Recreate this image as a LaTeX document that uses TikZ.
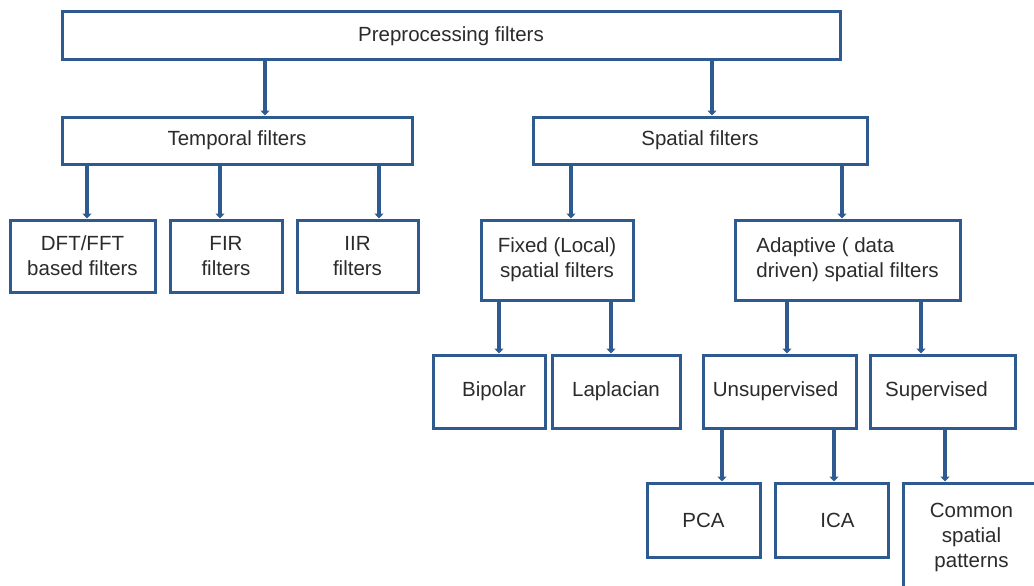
\documentclass[tikz,border=0pt]{standalone}
\usepackage{fontspec}
\setmainfont{Liberation Sans}
\usetikzlibrary{arrows.meta}
\definecolor{bl}{HTML}{2F5A90}
\definecolor{tx}{HTML}{2B2B2B}
\begin{document}
\begin{tikzpicture}[x=1pt,y=-1pt,
 box/.style={draw=bl, line width=3pt, fill=white, text=tx, align=center, inner sep=0pt,
   font=\fontsize{20.5}{25}\selectfont},
 arr/.style={draw=bl, line width=4pt, -{Triangle[length=5pt,width=9pt]}}]
\useasboundingbox (0,0) rectangle (1034,586);
\begin{scope}
\clip (0,0) rectangle (1034,586);
% level 0
\node[box, minimum width=778pt, minimum height=48pt] (pre) at (451,36) {Preprocessing filters};
% level 1
\node[box, minimum width=350pt, minimum height=47pt] (tem) at (237,140.5) {Temporal filters};
\node[box, minimum width=334pt, minimum height=47pt] (spa) at (700,140.5) {Spatial filters};
% level 2
\node[box, minimum width=145pt, minimum height=72pt] (dft) at (82.5,256) {DFT/FFT\\based filters};
\node[box, minimum width=112pt, minimum height=72pt] (fir) at (226,256) {FIR\\filters};
\node[box, minimum width=121pt, minimum height=72pt] (iir) at (357.5,256) {IIR\\filters};
\node[box, minimum width=152pt, minimum height=80pt] (fix) at (557,260) {Fixed (Local)\\spatial filters};
\node[box, minimum width=225pt, minimum height=80pt, align=left] (ada) at (847.5,260) {Adaptive ( data\\driven) spatial filters};
% level 3
\node[box, minimum width=112pt, minimum height=73pt] (bip) at (489,391.5) {\hspace*{10pt}Bipolar};
\node[box, minimum width=128pt, minimum height=73pt] (lap) at (616,391.5) {Laplacian};
\node[box, minimum width=153pt, minimum height=73pt] (uns) at (779.5,391.5) {Unsupervised\hspace*{8pt}};
\node[box, minimum width=145pt, minimum height=73pt] (sup) at (942.5,391.5) {Supervised\hspace*{12pt}};
% level 4
\node[box, minimum width=113pt, minimum height=74pt] (pca) at (703.5,520) {PCA};
\node[box, minimum width=113pt, minimum height=74pt] (ica) at (831.5,520) {\hspace*{12pt}ICA};
\node[box, minimum width=137pt, minimum height=109pt] (csp) at (971.5,537.5) {Common\\spatial\\patterns};
% arrow x positions
\coordinate (x1) at (265,0);
\coordinate (x2) at (712,0);
\coordinate (x3) at (87,0);
\coordinate (x4) at (220,0);
\coordinate (x5) at (379,0);
\coordinate (x6) at (571,0);
\coordinate (x7) at (842,0);
\coordinate (x8) at (499,0);
\coordinate (x9) at (611,0);
\coordinate (x10) at (787,0);
\coordinate (x11) at (921,0);
\coordinate (x12) at (722,0);
\coordinate (x13) at (834,0);
\coordinate (x14) at (945,0);
% connectors
\draw[arr] (pre.south -| x1) -- (tem.north -| x1);
\draw[arr] (pre.south -| x2) -- (spa.north -| x2);
\draw[arr] (tem.south -| x3) -- (dft.north -| x3);
\draw[arr] (tem.south -| x4) -- (fir.north -| x4);
\draw[arr] (tem.south -| x5) -- (iir.north -| x5);
\draw[arr] (spa.south -| x6) -- (fix.north -| x6);
\draw[arr] (spa.south -| x7) -- (ada.north -| x7);
\draw[arr] (fix.south -| x8) -- (bip.north -| x8);
\draw[arr] (fix.south -| x9) -- (lap.north -| x9);
\draw[arr] (ada.south -| x10) -- (uns.north -| x10);
\draw[arr] (ada.south -| x11) -- (sup.north -| x11);
\draw[arr] (uns.south -| x12) -- (pca.north -| x12);
\draw[arr] (uns.south -| x13) -- (ica.north -| x13);
\draw[arr] (sup.south -| x14) -- (csp.north -| x14);
\end{scope}
\end{tikzpicture}
\end{document}
